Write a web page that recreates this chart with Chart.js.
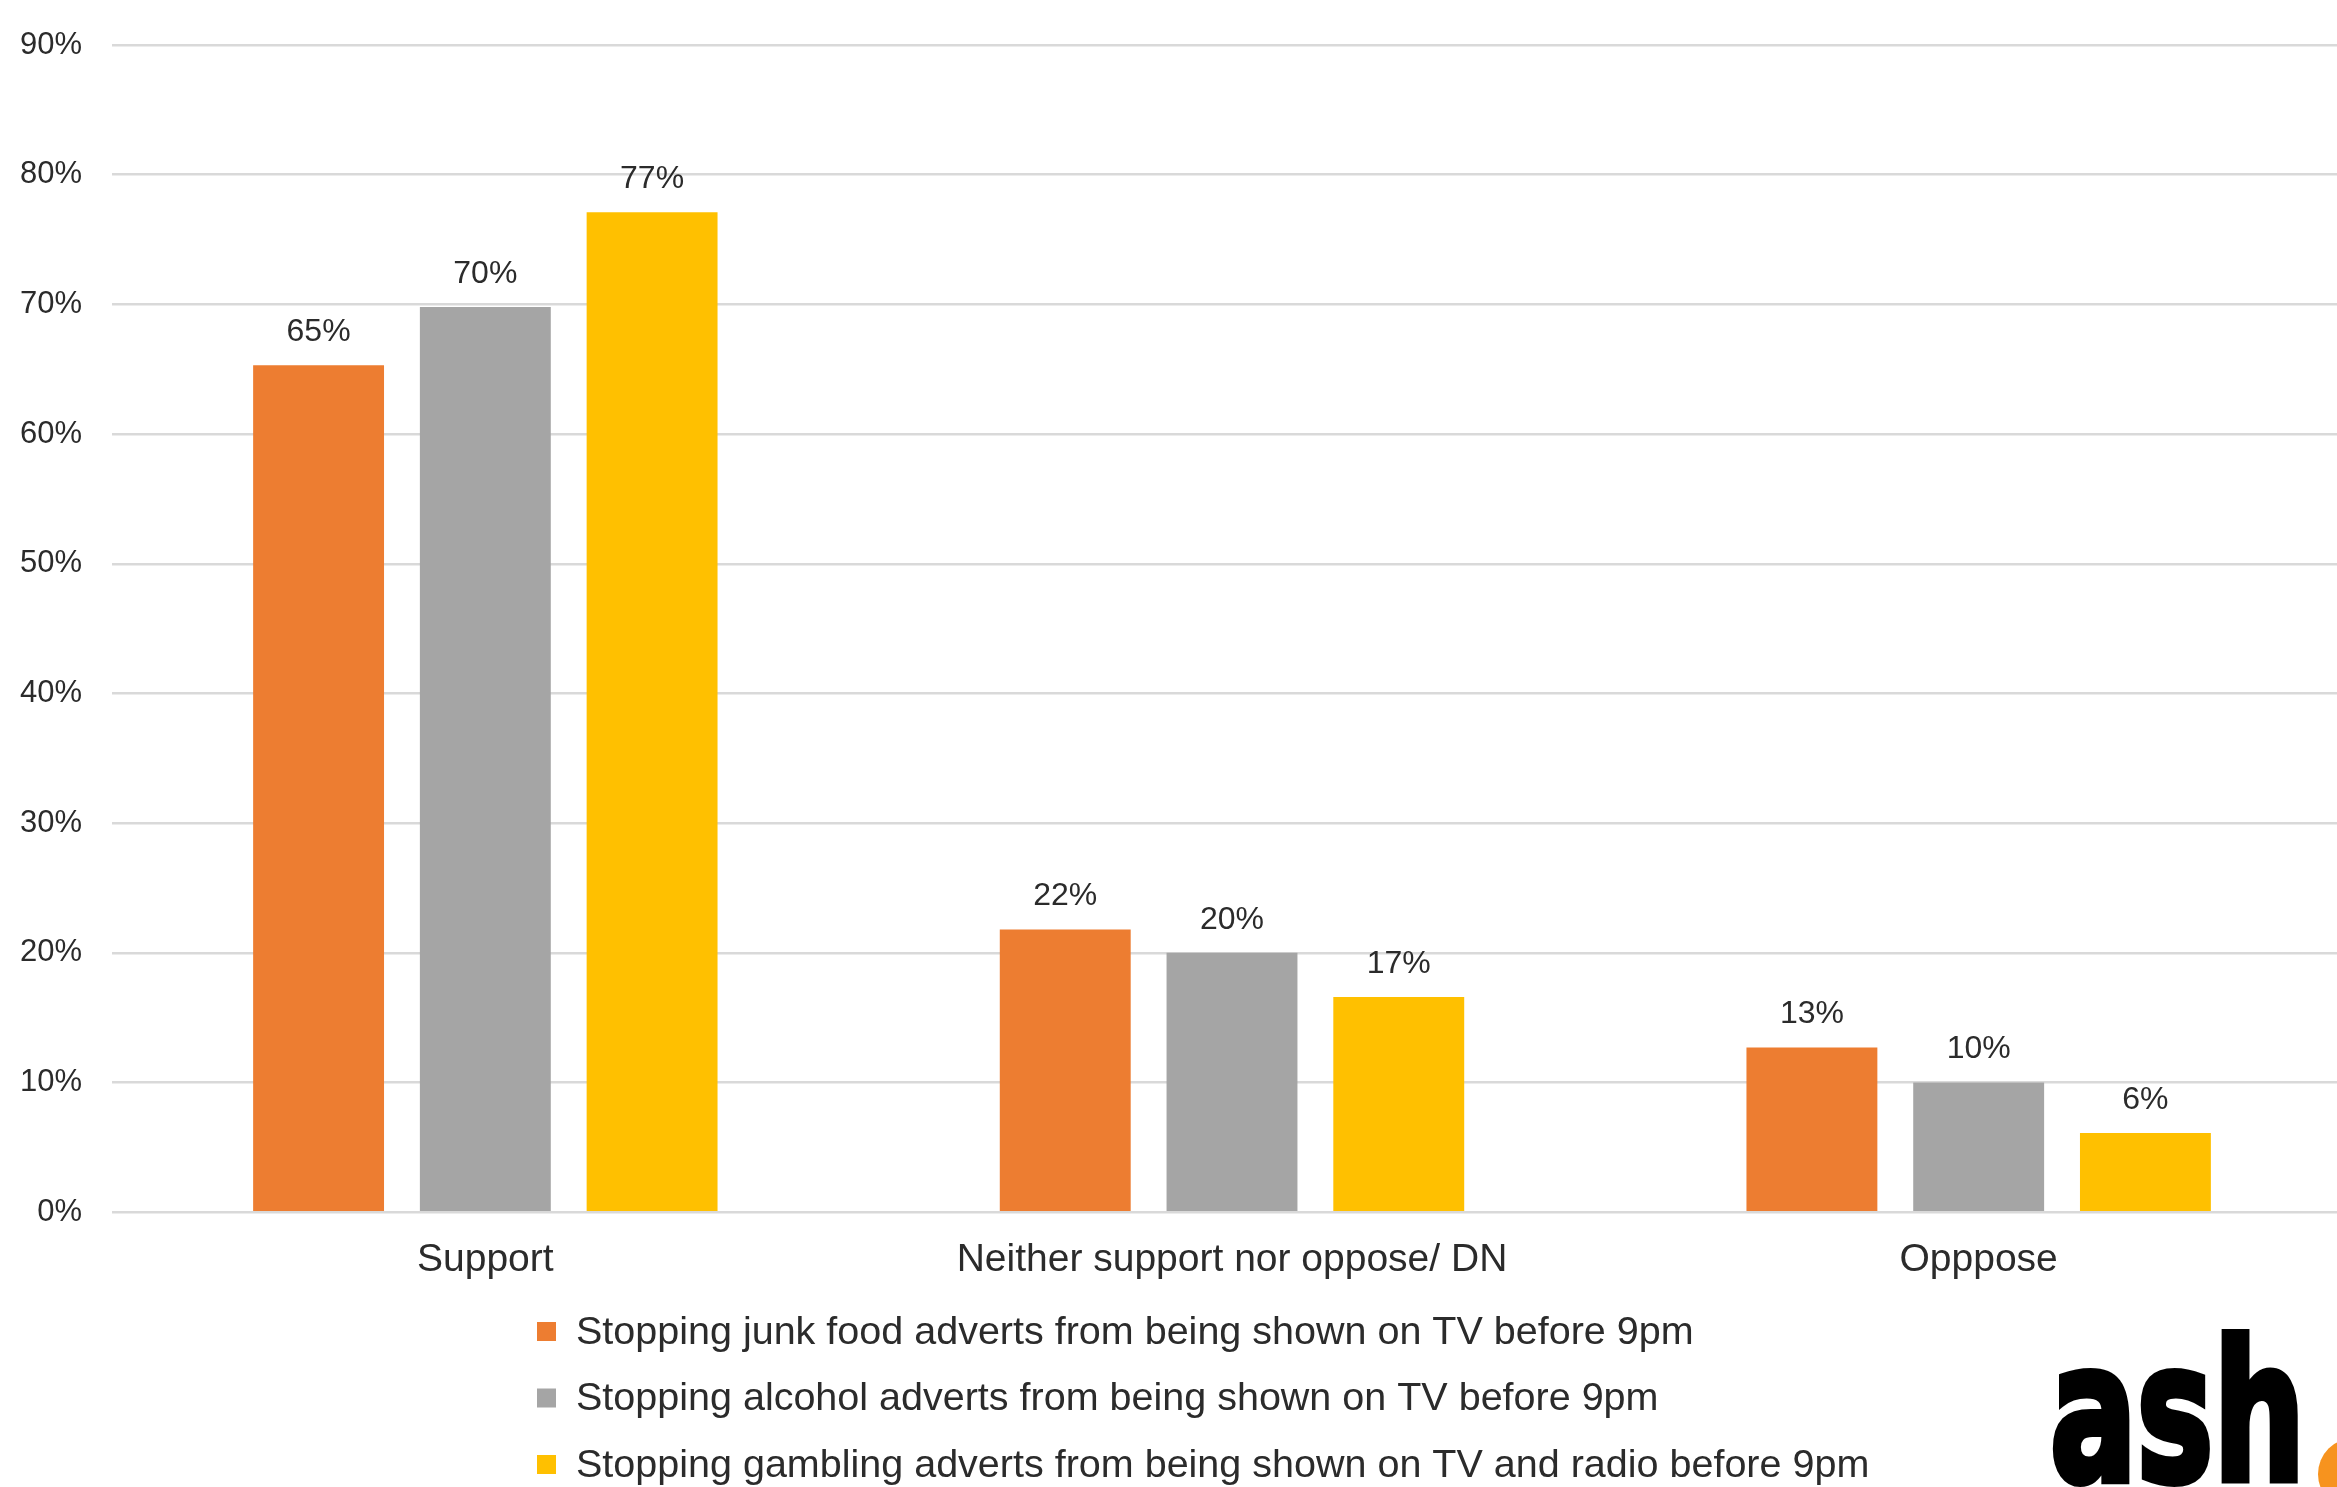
<!DOCTYPE html>
<html>
<head>
<meta charset="utf-8">
<script src="https://cdn.jsdelivr.net/npm/chart.js@4.4.1/dist/chart.umd.min.js"></script>
<style>
  html, body { margin:0; padding:0; background:#fff; overflow:hidden; }
  #wrap { width:2352px; height:1487px; }
</style>
</head>
<body>
<div id="wrap"><canvas id="chart-ash" width="2352" height="1487"></canvas></div>
<script>
// ASH survey — support for pre-9pm advert restrictions
const categories = ['Support', 'Neither support nor oppose/ DN', 'Opppose'];
const seriesNames = [
  'Stopping junk food adverts from being shown on TV before 9pm',
  'Stopping alcohol adverts from being shown on TV before 9pm',
  'Stopping gambling adverts from being shown on TV and radio before 9pm',
];
const junkFood = [65.3, 21.8, 12.7];
const alcohol  = [69.8, 20.0, 10.0];
const gambling = [77.1, 16.6, 6.1];
const yTicks = [0, 10, 20, 30, 40, 50, 60, 70, 80, 90];

const FONT = '"Liberation Sans", Arial, sans-serif';
const TXT = '#2b2b2b';
const colors = ['#ED7D31', '#A5A5A5', '#FFC000'];

// value labels above each bar
const barLabels = {
  id: 'barLabels',
  afterDatasetsDraw(chart) {
    const ctx = chart.ctx;
    ctx.save();
    ctx.font = `32px ${FONT}`; ctx.fillStyle = TXT;
    ctx.textAlign = 'center'; ctx.textBaseline = 'middle';
    chart.data.datasets.forEach((ds, i) => {
      chart.getDatasetMeta(i).data.forEach((bar, j) => {
        ctx.fillText(Math.round(ds.data[j]) + '%', bar.x, bar.y - 33);
      });
    });
    ctx.restore();
  }
};

// stacked legend (one item per line) + ash logo
const bottomBits = {
  id: 'bottomBits',
  afterDraw(chart) {
    const ctx = chart.ctx;
    ctx.save();
    ctx.font = `39.5px ${FONT}`; ctx.textBaseline = 'middle'; ctx.textAlign = 'left';
    chart.data.datasets.forEach((ds, i) => {
      const y = 1332 + i * 66.5;
      ctx.fillStyle = ds.backgroundColor;
      ctx.fillRect(537, y - 10, 19, 19);
      ctx.fillStyle = TXT;
      ctx.fillText(ds.label, 576, y + 1);
    });
    // logo
    ctx.fillStyle = '#F7931E';
    ctx.beginPath(); ctx.arc(2354, 1474, 36, 0, Math.PI * 2); ctx.fill();
    ctx.fillStyle = '#000'; ctx.strokeStyle = '#000'; ctx.lineWidth = 8;
    ctx.font = `bold 192px "DejaVu Sans", ${FONT}`; ctx.textBaseline = 'alphabetic';
    ctx.fillText('ash', 2050, 1480, 255);
    ctx.strokeText('ash', 2050, 1480, 255);
    ctx.restore();
  }
};

new Chart(document.getElementById('chart-ash'), {
  type: 'bar',
  data: {
    labels: categories,
    datasets: [
      { label: seriesNames[0], data: junkFood, backgroundColor: colors[0] },
      { label: seriesNames[1], data: alcohol,  backgroundColor: colors[1] },
      { label: seriesNames[2], data: gambling, backgroundColor: colors[2] },
    ]
  },
  options: {
    responsive: false, animation: false,
    layout: { padding: { left: 0, top: 45, right: 0, bottom: 178 } },
    datasets: { bar: { categoryPercentage: 0.67, barPercentage: 0.785 } },
    plugins: { legend: { display: false }, tooltip: { enabled: false } },
    scales: {
      x: {
        grid: { display: false, drawTicks: false }, border: { display: false },
        ticks: { color: TXT, font: { family: FONT, size: 39 }, padding: 25 }
      },
      y: {
        min: 0, max: 90,
        afterBuildTicks: axis => { axis.ticks = yTicks.map(v => ({ value: v })); },
        afterFit: axis => { axis.width = 112; axis.paddingTop = 0; axis.paddingBottom = 0; },
        grid: { color: '#D9D9D9', lineWidth: 2.5, drawTicks: false }, border: { display: false },
        ticks: { color: TXT, font: { family: FONT, size: 31 }, padding: 30, callback: v => v + '%' }
      }
    }
  },
  plugins: [barLabels, bottomBits]
});
</script>
</body>
</html>
